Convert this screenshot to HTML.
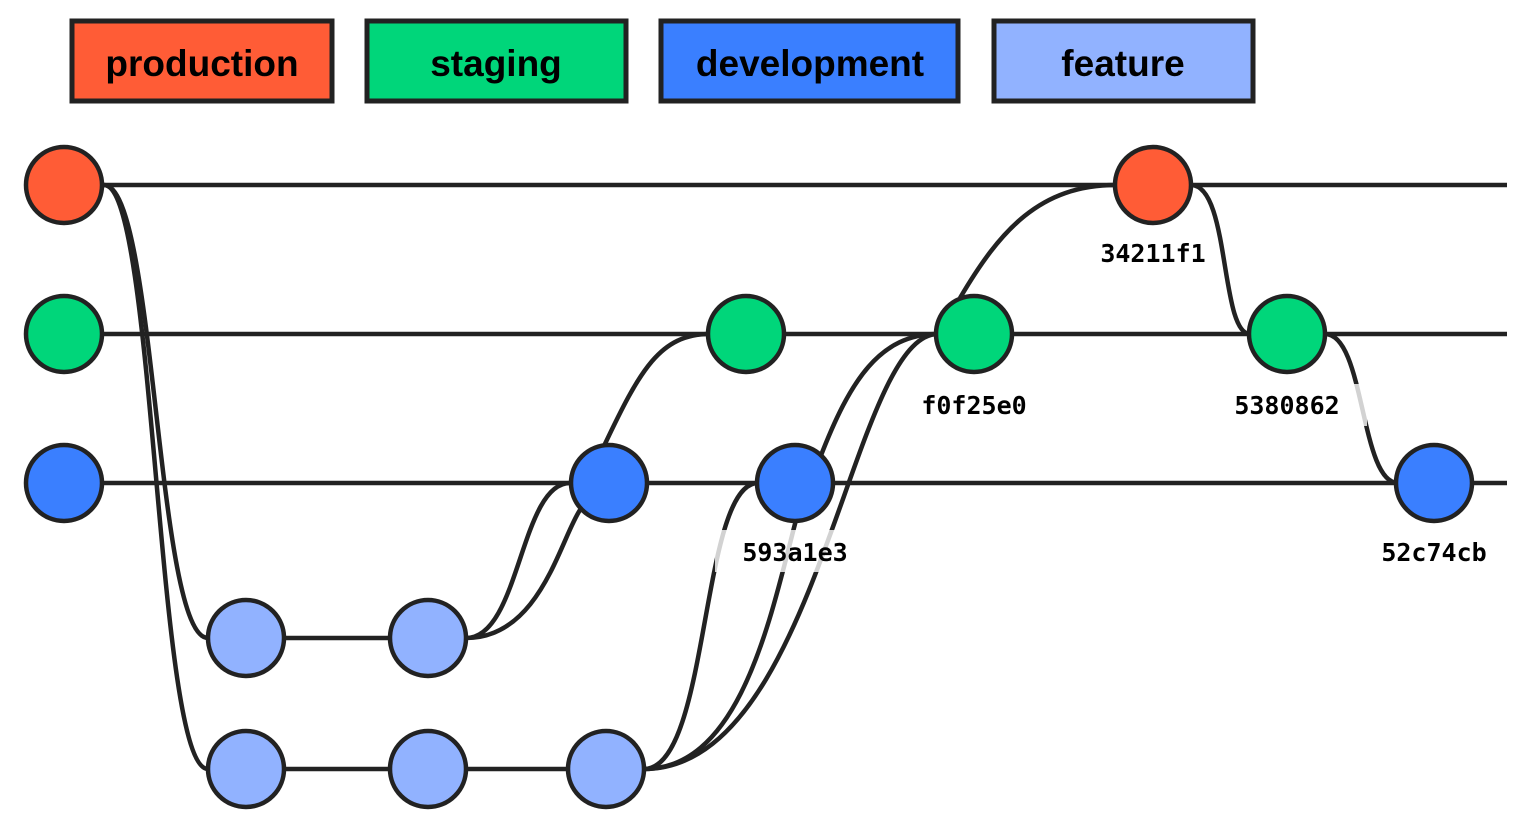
<!DOCTYPE html>
<html><head><meta charset="utf-8"><style>
html,body{margin:0;padding:0;background:#fff;}
svg{display:block;}
.l{fill:none;stroke:#222;stroke-width:4.5;}
.n{stroke:#222;stroke-width:4.5;}
.lg{font-family:"Liberation Sans",sans-serif;font-weight:bold;font-size:37px;fill:#000;}
.lb{font-family:"DejaVu Sans Mono","Liberation Mono",monospace;font-weight:bold;font-size:25px;fill:#000;}
</style></head><body>
<svg width="1539" height="821" viewBox="0 0 1539 821">
<g stroke="#222" stroke-width="5">
<rect x="72" y="21" width="260" height="80" fill="#ff5c36"/>
<rect x="367" y="21" width="259" height="80" fill="#00d67a"/>
<rect x="661" y="21" width="297" height="80" fill="#3a7fff"/>
<rect x="994" y="21" width="259" height="80" fill="#91b2ff"/>
</g>
<text class="lg" x="202" y="76" text-anchor="middle">production</text>
<text class="lg" x="496" y="76" text-anchor="middle">staging</text>
<text class="lg" x="810" y="76" text-anchor="middle">development</text>
<text class="lg" x="1123" y="76" text-anchor="middle">feature</text>

<line class="l" x1="64" y1="185" x2="1507" y2="185"/>
<line class="l" x1="64" y1="334" x2="1507" y2="334"/>
<line class="l" x1="64" y1="483" x2="1507" y2="483"/>
<line class="l" x1="246" y1="638" x2="428" y2="638"/>
<line class="l" x1="246" y1="769" x2="606" y2="769"/>

<path class="l" d="M104,185 C156,185 156,638 208,638"/>
<path class="l" d="M104,185 C156,185 156,769 208,769"/>
<path class="l" d="M466,638 C520,638 520,483 570,483"/>
<path class="l" d="M466,638 C540,638 560,540 580,510"/>
<path class="l" d="M604,446 C640,370 660,334 710,334"/>
<path class="l" d="M644,769 C710,769 700,483 758,483"/>
<path class="l" d="M644,769 C740,769 770,620 796,520"/>
<path class="l" d="M644,769 C820,769 850,334 938,334"/>
<path class="l" d="M820,458 C850,380 880,334 938,334"/>
<path class="l" d="M960,298 C1000,230 1040,185 1116,185"/>
<path class="l" d="M1191,185 C1230,185 1220,334 1250,334"/>
<path class="l" d="M1325,334 C1365,334 1360,483 1398,483"/>

<g class="n">
<circle cx="64" cy="185" r="38" fill="#ff5c36"/>
<circle cx="64" cy="334" r="38" fill="#00d67a"/>
<circle cx="64" cy="483" r="38" fill="#3a7fff"/>
<circle cx="246" cy="638" r="38" fill="#91b2ff"/>
<circle cx="428" cy="638" r="38" fill="#91b2ff"/>
<circle cx="246" cy="769" r="38" fill="#91b2ff"/>
<circle cx="428" cy="769" r="38" fill="#91b2ff"/>
<circle cx="606" cy="769" r="38" fill="#91b2ff"/>
<circle cx="609" cy="483" r="38" fill="#3a7fff"/>
<circle cx="746" cy="334" r="38" fill="#00d67a"/>
<circle cx="795" cy="483" r="38" fill="#3a7fff"/>
<circle cx="974" cy="334" r="38" fill="#00d67a"/>
<circle cx="1153" cy="185" r="38" fill="#ff5c36"/>
<circle cx="1287" cy="334" r="38" fill="#00d67a"/>
<circle cx="1434" cy="483" r="38" fill="#3a7fff"/>
</g>
<g fill="#fff" opacity="0.8">
<rect x="715" y="530" width="160" height="42"/>
<rect x="896" y="384" width="156" height="42"/>
<rect x="1093" y="235" width="120" height="38"/>
<rect x="1227" y="384" width="140" height="42"/>
</g>
<text class="lb" x="795" y="561" text-anchor="middle">593a1e3</text>
<text class="lb" x="974" y="414" text-anchor="middle">f0f25e0</text>
<text class="lb" x="1153" y="262" text-anchor="middle">34211f1</text>
<text class="lb" x="1287" y="414" text-anchor="middle">5380862</text>
<text class="lb" x="1434" y="561" text-anchor="middle">52c74cb</text>
</svg>
</body></html>
